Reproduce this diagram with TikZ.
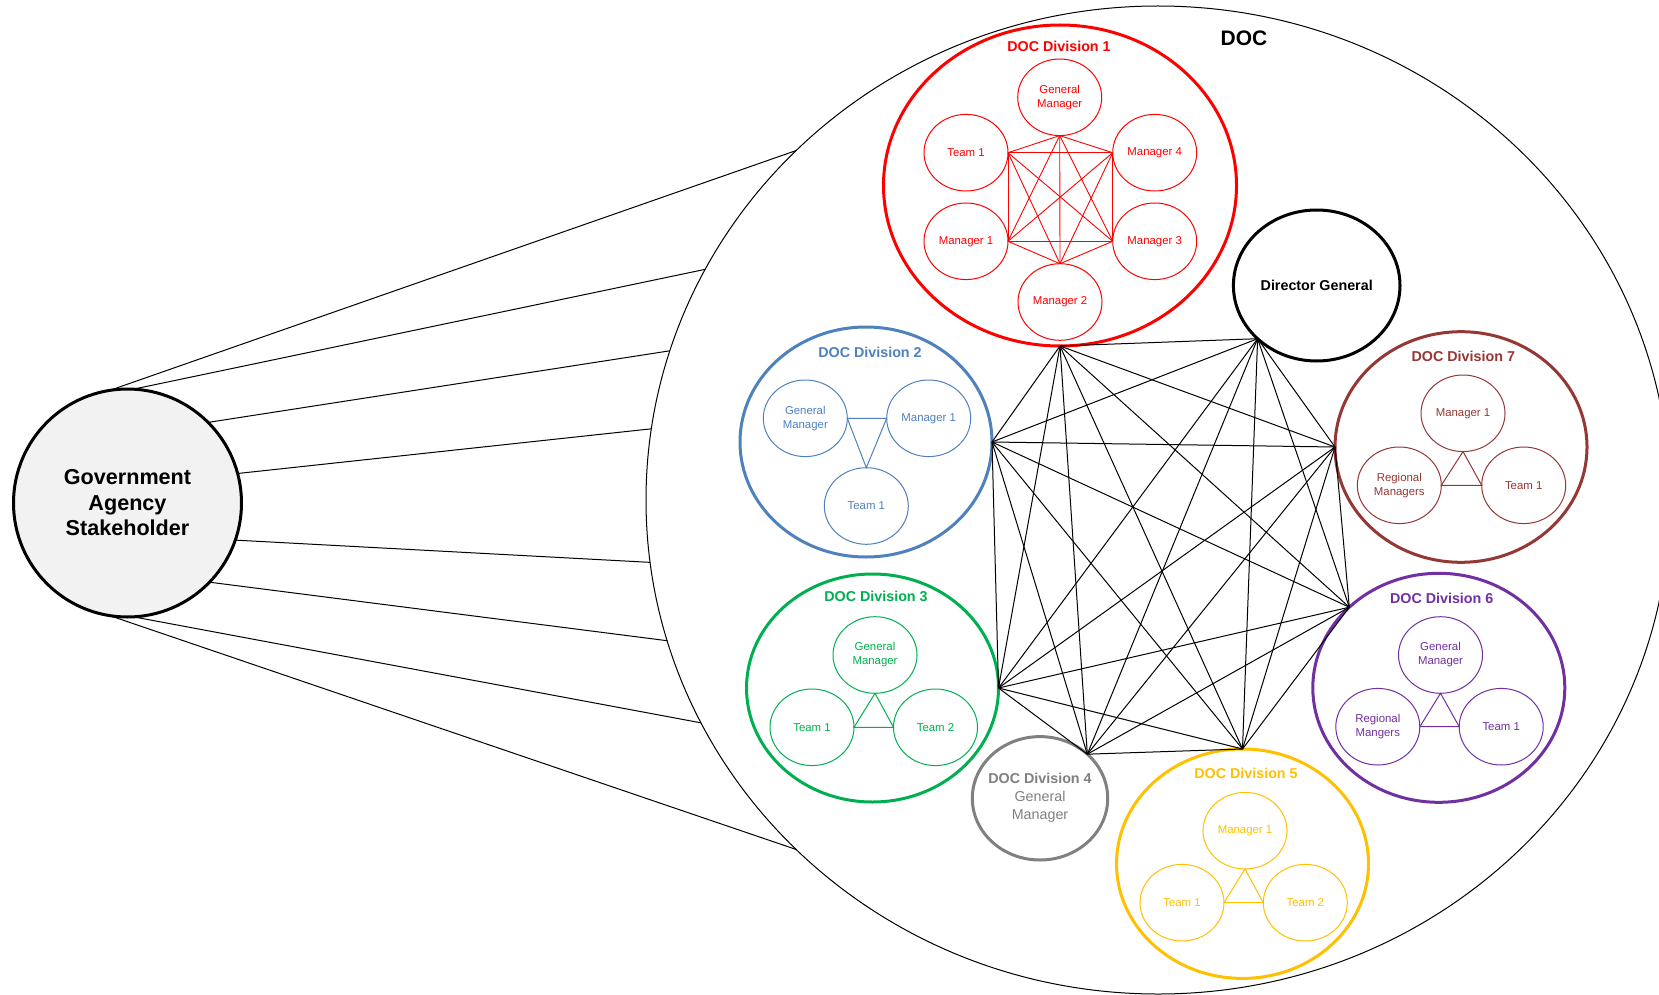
\documentclass[tikz,border=0pt]{standalone}
\usepackage{fontspec}
\setmainfont{Liberation Sans}
\usetikzlibrary{shapes.geometric}
\definecolor{divred}{HTML}{FF0000}
\definecolor{divblue}{HTML}{4F81BD}
\definecolor{divgreen}{HTML}{00B050}
\definecolor{divgray}{HTML}{808080}
\definecolor{divyellow}{HTML}{FFC000}
\definecolor{divpurple}{HTML}{7030A0}
\definecolor{divbrown}{HTML}{953735}
\definecolor{stakefill}{HTML}{F2F2F2}

\begin{document}
\begin{tikzpicture}[x=1pt,y=-1pt,
  oval/.style={ellipse, draw, inner sep=0pt, outer sep=0pt},
  member/.style={oval, line width=1pt, minimum width=84pt, minimum height=76.6pt,
    align=center, font=\fontsize{11.4}{14}\selectfont},
  division/.style={oval, line width=3pt, minimum width=252pt, minimum height=229pt},
  divtitle/.style={inner sep=0pt, font=\bfseries\fontsize{14.3}{17}\selectfont},
  link/.style={line width=1pt},
]
\fill[white] (0,0) rectangle (1659,995);
\clip (0,0) rectangle (1659,995);

% outer organisation boundary
\node[oval, line width=1pt, minimum width=1024pt, minimum height=988pt] (doc) at (1158,500) {};
\node[inner sep=0pt, font=\bfseries\fontsize{21}{25}\selectfont] (doclabel) at (1244,38) {DOC};

% external stakeholder and its links to the organisation
\node[circle, draw, line width=3pt, fill=stakefill, minimum size=228pt, inner sep=0pt,
  outer sep=0pt, align=center, font=\bfseries\fontsize{21.6}{25.5}\selectfont]
  (gas) at (127.5,503) {Government\\Agency\\Stakeholder};
\foreach \a/\b in {99/136, 87/153, 45/163, 15/172, -19/187, -44/196, -87/206, -99/224}
  \draw[link] (gas.\a) -- (doc.\b);

% Division 1
\begin{scope}[color=divred]
  \node[division, minimum width=353pt, minimum height=321pt] (d1) at (1060,185.5) {};
  \node[divtitle] (d1title) at (1059,46) {DOC Division 1};
  \node[member] (g1gm) at (1059.7,97.3) {General\\Manager};
  \node[member] (g1t1) at (966,152.7) {Team 1};
  \node[member] (g1m4) at (1154.7,152.7) {Manager 4};
  \node[member] (g1m1) at (966,241.3) {Manager 1};
  \node[member] (g1m3) at (1154.7,241.3) {Manager 3};
  \node[member] (g1m2) at (1060,302) {Manager 2};
  \coordinate (k1) at (g1gm.south);
  \coordinate (k2) at (g1t1.east);
  \coordinate (k3) at (g1m4.west);
  \coordinate (k4) at (g1m1.east);
  \coordinate (k5) at (g1m3.west);
  \coordinate (k6) at (g1m2.north);
  \foreach \i in {1,...,6}{\foreach \j in {1,...,6}{%
    \ifnum\i<\j\relax \draw[line width=0.9pt] (k\i) -- (k\j);\fi}}
\end{scope}

% Division 2
\begin{scope}[color=divblue]
  \node[division, minimum height=230pt] (d2) at (866,442) {};
  \node[divtitle] (d2title) at (870,352.3) {DOC Division 2};
  \node[member] (g2gm) at (805.3,418.3) {General\\Manager};
  \node[member] (g2m1) at (928.7,418.3) {Manager 1};
  \node[member] (g2t1) at (866.3,506) {Team 1};
  \draw[line width=1pt] (g2gm.east) -- (g2m1.west) -- (g2t1.north) -- cycle;
\end{scope}

% Division 7
\begin{scope}[color=divbrown]
  \node[division, minimum height=230.6pt] (d7) at (1461,447) {};
  \node[divtitle] (d7title) at (1463.3,356) {DOC Division 7};
  \node[member] (g7m1) at (1463,413.3) {Manager 1};
  \node[member] (g7rm) at (1399.3,485.3) {Regional\\Managers};
  \node[member] (g7t1) at (1523.7,485.3) {Team 1};
  \draw[line width=1pt] (g7m1.south) -- (g7rm.east) -- (g7t1.west) -- cycle;
\end{scope}

% Division 3
\begin{scope}[color=divgreen]
  \node[division, minimum height=228pt] (d3) at (872.5,688) {};
  \node[divtitle] (d3title) at (876,596.7) {DOC Division 3};
  \node[member] (g3gm) at (875,655) {General\\Manager};
  \node[member] (g3t1) at (812,727.3) {Team 1};
  \node[member] (g3t2) at (935.5,727.3) {Team 2};
  \draw[line width=1pt] (g3gm.south) -- (g3t1.east) -- (g3t2.west) -- cycle;
\end{scope}

% Division 4
\begin{scope}[color=divgray]
  \node[oval, line width=3pt, minimum width=135.4pt, minimum height=123.4pt] (d4) at (1040,798.3) {};
  \node[inner sep=0pt, align=center, font=\fontsize{14.3}{17.8}\selectfont]
    (d4text) at (1040,797.5) {\textbf{DOC Division 4}\\General\\Manager};
\end{scope}

% Division 5
\begin{scope}[color=divyellow]
  \node[division, minimum height=229.4pt] (d5) at (1242.5,863.7) {};
  \node[divtitle] (d5title) at (1246,773.3) {DOC Division 5};
  \node[member] (g5m1) at (1245,830.7) {Manager 1};
  \node[member] (g5t1) at (1182,902.7) {Team 1};
  \node[member] (g5t2) at (1305.3,902.7) {Team 2};
  \draw[line width=1pt] (g5m1.south) -- (g5t1.east) -- (g5t2.west) -- cycle;
\end{scope}

% Division 6
\begin{scope}[color=divpurple]
  \node[division] (d6) at (1438.8,687.8) {};
  \node[divtitle] (d6title) at (1441.7,598.3) {DOC Division 6};
  \node[member] (g6gm) at (1440.5,655) {General\\Manager};
  \node[member] (g6rm) at (1377.8,726.7) {Regional\\Mangers};
  \node[member] (g6t1) at (1501.2,726.7) {Team 1};
  \draw[line width=1pt] (g6gm.south) -- (g6rm.east) -- (g6t1.west) -- cycle;
\end{scope}

% Director General
\node[oval, line width=3pt, minimum width=166.6pt, minimum height=151pt,
  font=\bfseries\fontsize{14.3}{17}\selectfont] (dg) at (1316.7,285.5) {Director General};

% every unit is linked to every other unit
\coordinate (h1) at (d1.south);
\coordinate (h2) at (dg.222);
\coordinate (h3) at (d2.east);
\coordinate (h4) at (d7.west);
\coordinate (h5) at (d3.east);
\coordinate (h6) at (d6.138);
\coordinate (h7) at (d4.43);
\coordinate (h8) at (d5.north);
\foreach \i in {1,...,8}{\foreach \j in {1,...,8}{%
  \ifnum\i<\j\relax \draw[link] (h\i) -- (h\j);\fi}}
\end{tikzpicture}
\end{document}
